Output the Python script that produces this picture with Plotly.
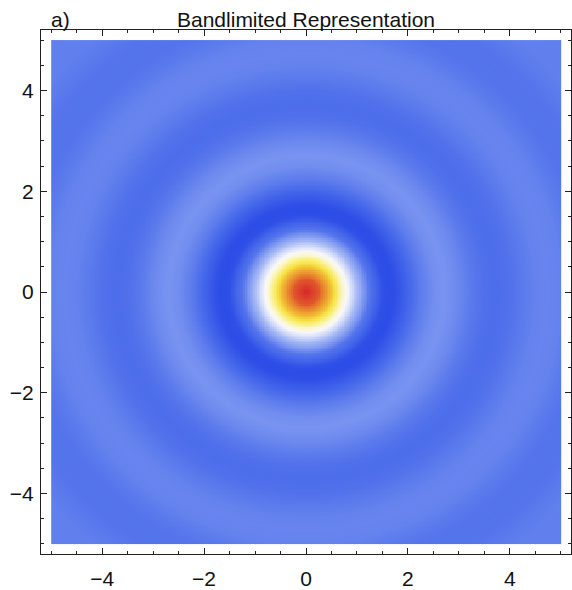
import numpy as np
import plotly.graph_objects as go

# Radial profile of the bandlimited field (value vs. distance from origin)
radius = [0.0, 0.25, 0.5, 0.75, 1.0, 1.25, 1.5, 1.635, 1.75, 2.0, 2.25, 2.5,
          2.68, 2.75, 3.0, 3.25, 3.5, 3.7, 3.75, 4.0, 4.25, 4.5, 4.71, 4.75,
          5.0, 5.25, 5.5, 5.75, 6.0, 6.25, 6.5, 6.75, 7.0, 7.25]
level = [1.0, 0.926, 0.722, 0.449, 0.181, -0.020, -0.122, -0.132, -0.124,
         -0.067, 0.006, 0.051, 0.0645, 0.063, 0.037, -0.002, -0.032, -0.040,
         -0.0398, -0.027, 0.0, 0.0226, 0.028, 0.0277, 0.023, 0.0, -0.0185,
         -0.0208, -0.017, 0.0, 0.014, 0.016, 0.0137, 0.0]

x_ticks = [-4, -2, 0, 2, 4]
y_ticks = [-4, -2, 0, 2, 4]

# Temperature-style colour map: blue -> white -> yellow -> red
temperature = [
    [0.00, "#2c4de6"], [0.06, "#4466ea"], [0.117, "#5b7aec"],
    [0.174, "#7893f0"], [0.26, "#a0b4f4"], [0.36, "#d0d9f8"],
    [0.46, "#f8f8fa"], [0.53, "#fbf7d2"], [0.62, "#f9ef78"],
    [0.70, "#f6df40"], [0.80, "#eeaa32"], [0.90, "#e4702c"],
    [1.00, "#d6282a"],
]

n = 300
step = 10.0 / n
xs = np.linspace(-5 + step / 2, 5 - step / 2, n)
ys = xs.copy()
X, Y = np.meshgrid(xs, ys)
R = np.hypot(X, Y)
Z = np.round(np.interp(R, radius, level), 4)

fig = go.Figure(go.Heatmap(
    x=xs, y=ys, z=Z,
    colorscale=temperature, zmin=min(level), zmax=max(level),
    showscale=False, hoverinfo="skip",
))

axis_style = dict(
    range=[-5.2, 5.2], showgrid=False, zeroline=False,
    showline=True, linecolor="#222", linewidth=1, mirror="ticks",
    ticks="inside", ticklen=6, tickwidth=1, tickcolor="#222",
    tickfont=dict(family="Liberation Sans, Arial, sans-serif", size=21, color="#111"),
    minor=dict(dtick=0.5, tick0=0, ticks="inside", ticklen=3,
               tickwidth=1, tickcolor="#222", showgrid=False),
)

fig.update_xaxes(tickvals=x_ticks, ticklabelstandoff=6, **axis_style)
fig.update_yaxes(tickvals=y_ticks, ticklabelstandoff=2, **axis_style)

title_font = dict(family="Liberation Sans, Arial, sans-serif", size=21, color="#111")
fig.update_layout(
    width=572, height=590,
    margin=dict(l=41, r=0, t=30, b=29),
    paper_bgcolor="white", plot_bgcolor="white",
    annotations=[
        dict(text="a)", x=0.016, y=1, xref="paper", yref="paper",
             xanchor="left", yanchor="bottom", yshift=-3,
             showarrow=False, font=title_font),
        dict(text="Bandlimited Representation", x=0.5, y=1,
             xref="paper", yref="paper", xanchor="center", yanchor="bottom",
             yshift=-3, showarrow=False, font=title_font),
    ],
)

fig.write_html("out.html")
